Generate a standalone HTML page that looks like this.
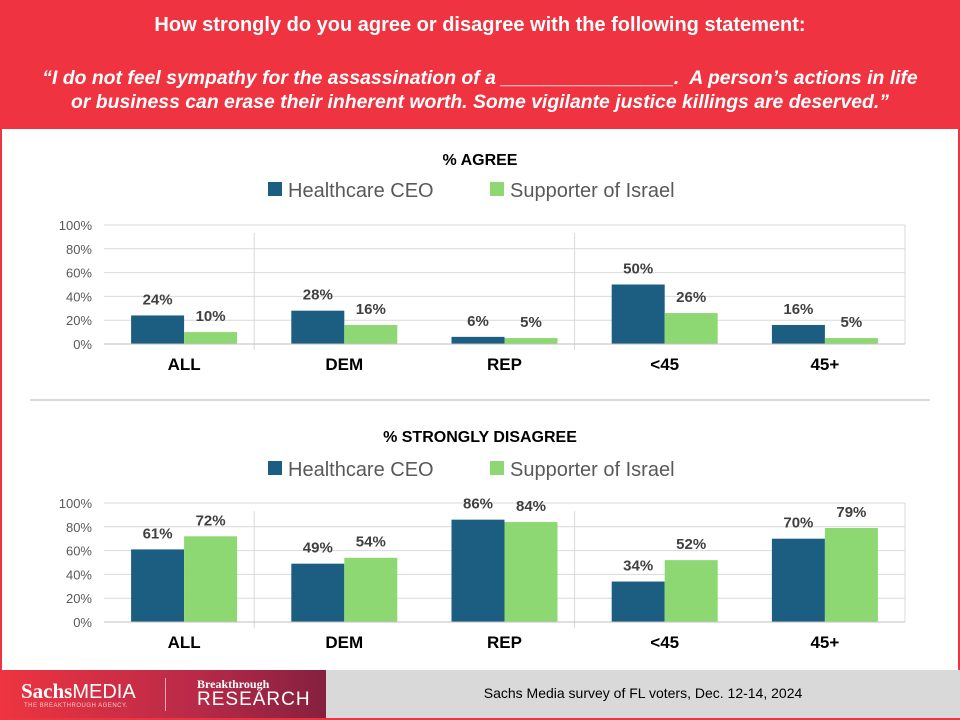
<!DOCTYPE html>
<html><head><meta charset="utf-8"><style>
body{margin:0;width:960px;height:720px;overflow:hidden;background:#fff;font-family:"Liberation Sans",sans-serif}
#frame{position:absolute;left:0;top:0;width:956px;height:716px;border:2px solid #ef3340}
#hdr{position:absolute;left:0;top:0;width:960px;height:129px;background:#ef3340;color:#fff;text-align:center;font-family:"Liberation Sans Narrow","Liberation Sans",sans-serif;font-weight:bold;font-size:20px}
#footer{position:absolute;left:0;top:670px;width:960px;height:48px;background:#d9d9d9}
#logo{position:absolute;left:0;top:0;width:326px;height:48px;background:linear-gradient(90deg,#ee3440,#b82a48 60%,#85203f)}
</style></head><body>
<div id="frame"></div>
<div id="hdr">
<div style="position:absolute;top:14px;width:100%">How strongly do you agree or disagree with the following statement:</div>
<div style="position:absolute;top:66px;width:100%;font-style:italic;line-height:24px;font-size:19.4px">“I do not feel sympathy for the assassination of a ________________.&nbsp; A person’s actions in life<br>or business can erase their inherent worth. Some vigilante justice killings are deserved.”</div>
</div>
<svg id="chart" width="960" height="720" style="position:absolute;left:0;top:0"></svg>
<div id="footer">
<div id="logo">
<div style="position:absolute;left:21px;top:9px;color:#fff;font-family:'Liberation Serif',serif;font-weight:bold;font-size:21px">Sachs<span style="font-family:'Liberation Sans',sans-serif;font-weight:normal;font-size:20px">MEDIA</span></div>
<div style="position:absolute;left:24px;top:33px;color:#f6c9cc;font-size:6px;letter-spacing:0.5px">THE BREAKTHROUGH AGENCY.</div>
<div style="position:absolute;left:165px;top:8px;width:1px;height:33px;background:#f3a9ae"></div>
<div style="position:absolute;left:197px;top:7px;color:#fff;font-family:'Liberation Serif',serif;font-weight:bold;font-size:12px">Breakthrough</div>
<div style="position:absolute;left:197px;top:19px;color:#fff;font-size:19px;letter-spacing:1px">RESEARCH</div>
</div>
<div style="position:absolute;left:326px;width:634px;top:15px;text-align:center;font-size:14px;color:#000">Sachs Media survey of FL voters, Dec. 12-14, 2024</div>
</div>
<script>
const categories=["ALL","DEM","REP","<45","45+"];
const seriesNames=["Healthcare CEO","Supporter of Israel"];
const agreeCEO=[24,28,6,50,16];
const agreeIsrael=[10,16,5,26,5];
const disagreeCEO=[61,49,86,34,70];
const disagreeIsrael=[72,54,84,52,79];
const yTicks=[0,20,40,60,80,100];
const colors=["#1b5e82","#8ed873"];
const svg=document.getElementById('chart');
const NS="http://www.w3.org/2000/svg";
function mk(t,a,txt){const e=document.createElementNS(NS,t);for(const k in a)e.setAttribute(k,a[k]);if(txt!==undefined)e.textContent=txt;svg.appendChild(e);return e;}
const left=104,right=905,gw=(right-left)/categories.length,bw=53;
function drawChart(top,bottom,titleY,legendY,title,s1,s2,prefix){
  const y=v=>bottom-(v/100)*(bottom-top);
  const xc=i=>left+gw*(i+0.5);
  let t=mk('text',{x:480,y:titleY,'text-anchor':'middle','font-size':16,'font-weight':'bold',fill:'#000'},title);
  
  
  seriesNames.forEach((n,k)=>{
    const lx=k==0?268:490;
    const r=mk('rect',{x:lx,y:legendY-15,width:14,height:14,fill:colors[k]});
    
    
    const lt=mk('text',{x:lx+20,y:legendY,'font-size':20,fill:'#595959'},n);
    
    
  });
  yTicks.forEach(v=>{
    const g=mk('line',{x1:left,x2:right,y1:y(v),y2:y(v),stroke:'#d9d9d9','stroke-width':1});
    
    
    const l=mk('text',{x:left-12,y:y(v)+5,'text-anchor':'end','font-size':13,fill:'#595959'},v+'%');
    
    
  });
  const fr=mk('line',{x1:right,x2:right,y1:top,y2:bottom,stroke:'#d9d9d9'});
  
  
  [1,3].forEach(i=>{
    const s=mk('line',{x1:left+gw*i-10,x2:left+gw*i-10,y1:top+8,y2:bottom+6,stroke:'#d9d9d9'});
    
    
  });
  categories.forEach((c,i)=>{
    [s1,s2].forEach((arr,k)=>{
      const v=arr[i];const x=xc(i)-bw+k*bw;
      const b=mk('rect',{x:x,y:y(v),width:bw,height:bottom-y(v),fill:colors[k]});
      
      
      const lb=mk('text',{x:x+bw/2,y:y(v)-11,'text-anchor':'middle','font-size':15,'font-weight':'bold',fill:'#404040'},v+'%');
      
      
    });
    const cl=mk('text',{x:xc(i),y:bottom+26,'text-anchor':'middle','font-size':17,'font-weight':'bold',fill:'#000'},c);
    
    
  });
  const ax=mk('line',{x1:left,x2:right,y1:bottom,y2:bottom,stroke:'#bfbfbf'});
  
  
}
drawChart(225,344,165,197,'% AGREE',agreeCEO,agreeIsrael,'agree');
const sep=mk('line',{x1:30,x2:930,y1:400,y2:400,stroke:'#d9d9d9','stroke-width':2});


drawChart(503,622,442,476,'% STRONGLY DISAGREE',disagreeCEO,disagreeIsrael,'disagree');
</script>
</body></html>
